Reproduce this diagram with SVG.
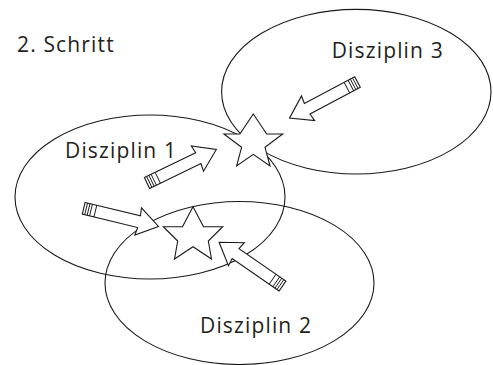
<svg xmlns="http://www.w3.org/2000/svg" xmlns:xlink="http://www.w3.org/1999/xlink" width="493" height="365" viewBox="0 0 493 365">
<style>
.ell{fill:none;stroke:#1a1a1a;stroke-width:1.1}
.shape{fill:#fff;stroke:#1a1a1a;stroke-width:1.1;stroke-linejoin:miter}
.stripe{fill:none;stroke:#1a1a1a;stroke-width:0.9}
.lbl{font-family:"Open Sans","Noto Sans","Liberation Sans",sans-serif;font-size:21px;letter-spacing:1.15px;fill:#231f20}
</style>
<defs>
<g id="arrow">
<path class="shape" d="M0,-6 H57 L56,-14 L77,0 L56,14 L57,6 H0 Z"/>
<path class="stripe" d="M2.5,-6 V6 M5,-6 V6 M7.5,-6 V6 M12,-6 V6"/>
</g>
</defs>
<rect width="493" height="365" fill="#fff"/>
<text class="lbl" x="17" y="52">2. Schritt</text>
<g id="disziplin1">
<ellipse class="ell" cx="150" cy="197" rx="135" ry="82"/>
</g>
<g id="disziplin2">
<ellipse class="ell" cx="239.5" cy="283" rx="134.5" ry="81.5"/>
</g>
<g id="disziplin3">
<ellipse class="ell" cx="356.3" cy="91.7" rx="134.7" ry="82.3"/>
</g>
<g id="connectors">
<use xlink:href="#arrow" transform="translate(357.5,82) rotate(152)"/>
<use xlink:href="#arrow" transform="translate(147,183) rotate(-25.8)"/>
<use xlink:href="#arrow" transform="translate(83.7,208.3) rotate(13.6)"/>
<use xlink:href="#arrow" transform="translate(282.5,286) rotate(-145.4)"/>
</g>
<g id="star1">
<polygon class="shape" points="253.3,114 266.7,134 282.7,134 265,147.3 270,166 253.3,154.3 236.6,166 241.6,147.3 223.9,134 239.9,134"/>
</g>
<g id="star2">
<polygon class="shape" points="193,206.7 203.5,226.7 222.7,226.7 208.3,241 211.5,259 193,246.7 174.5,259 177.7,241 163.3,226.7 182.5,226.7"/>
</g>
<g id="labels">
<text class="lbl" x="65" y="158.3">Disziplin 1</text>
<text class="lbl" x="200" y="333.3">Disziplin 2</text>
<text class="lbl" x="331.7" y="58.3">Disziplin 3</text>
</g>
</svg>
